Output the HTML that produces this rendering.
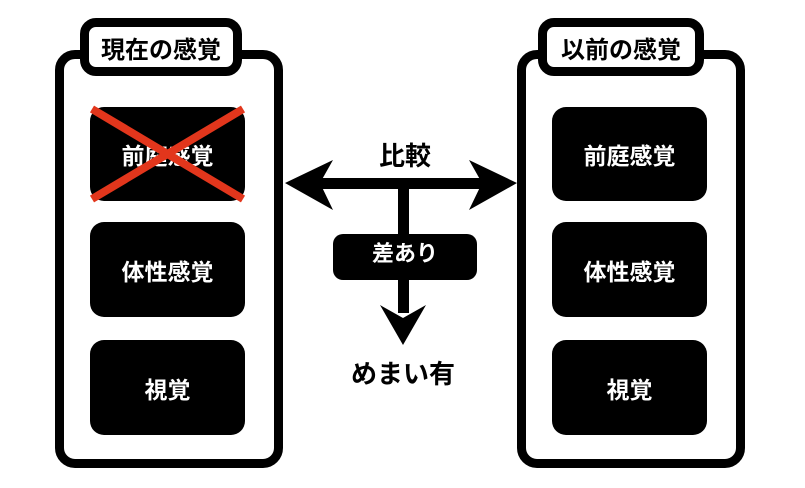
<!DOCTYPE html>
<html><head><meta charset="utf-8"><style>
body{margin:0;width:805px;height:488px;background:#fff;position:relative;overflow:hidden;font-family:"Liberation Sans","Noto Sans CJK JP",sans-serif;font-weight:bold}
.outer{position:absolute;border:9px solid #000;border-radius:20px;box-sizing:border-box;background:#fff}
.tab{position:absolute;border:9px solid #000;border-radius:16px;box-sizing:border-box;background:#fff;display:flex;align-items:center;justify-content:center;font-size:24px;color:#000}
.in{position:absolute;background:#000;border-radius:14px;color:#fff;display:flex;align-items:center;justify-content:center;font-size:23px}
.t{position:absolute;font-size:26px;color:#000;transform:translateX(-50%);white-space:nowrap}
</style></head><body>
<div class="outer" style="left:55px;top:50px;width:228px;height:418px"></div>
<div class="tab" style="left:80px;top:18px;width:162px;height:58px">現在の感覚</div>
<div class="in" style="left:90px;top:107px;width:155px;height:94px">前庭感覚</div>
<div class="in" style="left:90px;top:222px;width:155px;height:95px">体性感覚</div>
<div class="in" style="left:90px;top:340px;width:155px;height:95px">視覚</div>
<svg style="position:absolute;left:0;top:0" width="805" height="488">
<line x1="92" y1="109" x2="243" y2="199" stroke="#e2361c" stroke-width="8"/>
<line x1="243" y1="109" x2="92" y2="199" stroke="#e2361c" stroke-width="8"/>
<rect x="300" y="178" width="200" height="11" fill="#000"/>
<rect x="398" y="183" width="11" height="130" fill="#000"/>
<polygon points="285,183 333,160 320,183 333,210" fill="#000"/>
<polygon points="517,183 469,160 482,183 469,210" fill="#000"/>
<polygon points="403,345 380,305 403,318 426,305" fill="#000"/>
<rect x="333" y="234" width="144" height="46" rx="10" fill="#000"/>
</svg>
<div class="t" style="left:405px;top:236px;color:#fff;font-size:22px">差あり</div>
<div class="t" style="left:405px;top:136px">比較</div>
<div class="t" style="left:403px;top:354px">めまい有</div>
<div class="outer" style="left:517px;top:50px;width:228px;height:418px"></div>
<div class="tab" style="left:538px;top:18px;width:166px;height:58px">以前の感覚</div>
<div class="in" style="left:552px;top:107px;width:155px;height:94px">前庭感覚</div>
<div class="in" style="left:552px;top:222px;width:155px;height:95px">体性感覚</div>
<div class="in" style="left:552px;top:340px;width:155px;height:95px">視覚</div>
</body></html>
